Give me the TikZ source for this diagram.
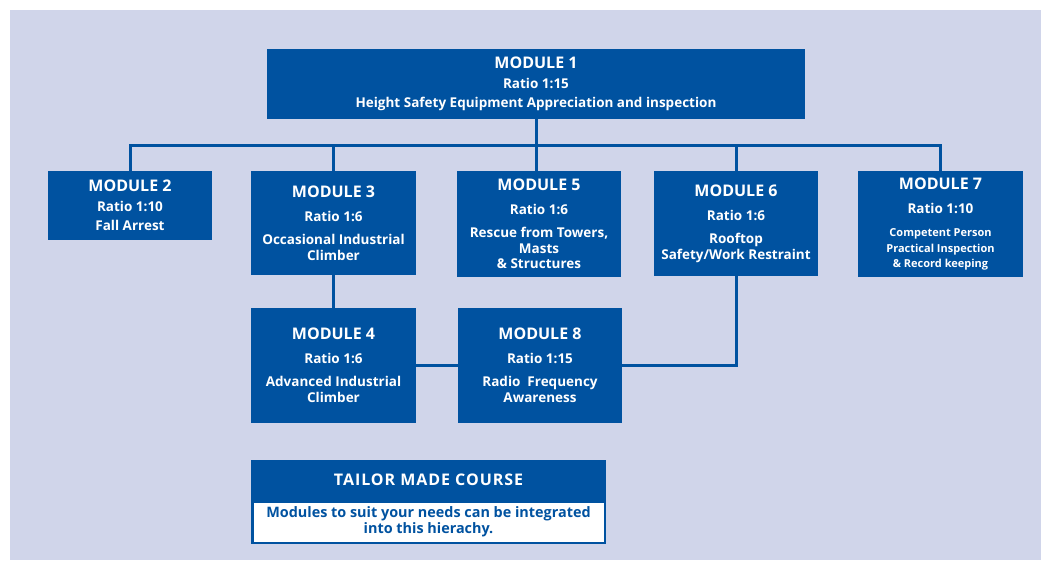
\documentclass[tikz,border=0pt]{standalone}
\usepackage{fontspec}
\setmainfont{Open Sans}
\definecolor{modblue}{RGB}{0,82,160}
\definecolor{backlav}{RGB}{208,213,234}
\newcommand{\modhead}[1]{{\fontsize{16}{16}\selectfont #1}}
\newcommand{\modratio}[1]{{\fontsize{13.5}{16}\selectfont #1}}
\newcommand{\moddesc}[1]{{\fontsize{13.5}{16}\selectfont #1}}
\newcommand{\modsmall}[1]{{\fontsize{11}{16}\selectfont #1}}
\newcommand{\modnote}[1]{{\fontsize{14.4}{16}\selectfont #1}}
\tikzset{
    modbox/.style={fill=modblue, text=white, font=\bfseries\fontsize{13.5}{16}\selectfont,
        align=center, inner sep=0pt, minimum width=164pt},
    link/.style={draw=modblue, line width=3pt},
}
\begin{document}
\begin{tikzpicture}[x=1pt, y=-1pt]
    \useasboundingbox (0, 0) rectangle (1041, 560);
    \fill[white] (0, 0) rectangle (1041, 560);
    \fill[backlav] (10, 10) rectangle (1041, 560);

    % top module
    \node[modbox, minimum width=538pt, minimum height=70pt] (m1) at (536, 84)
        {\modhead{MODULE 1}\\[4pt]\modratio{Ratio 1:15}\\[3pt]\moddesc{Height Safety Equipment Appreciation and inspection}};

    % second row
    \node[modbox, minimum height=69pt] (m2) at (130, 205.5)
        {\modhead{MODULE 2}\\[4pt]\modratio{Ratio 1:10}\\[3pt]\moddesc{Fall Arrest}};
    \node[modbox, minimum width=165pt, minimum height=104pt] (m3) at (333.5, 223)
        {\modhead{MODULE 3}\\[8pt]\modratio{Ratio 1:6}\\[7pt]\moddesc{Occasional Industrial}\\\moddesc{Climber}};
    \node[modbox, minimum height=106pt] (m5) at (539, 224)
        {\modhead{MODULE 5}\\[8pt]\modratio{Ratio 1:6}\\[7pt]\moddesc{Rescue from Towers,}\\\moddesc{Masts}\\[-1pt]\moddesc{\& Structures}};
    \node[modbox, minimum height=105pt] (m6) at (736, 223.5)
        {\modhead{MODULE 6}\\[8pt]\modratio{Ratio 1:6}\\[7pt]\moddesc{Rooftop}\\\moddesc{Safety/Work Restraint}};
    \node[modbox, minimum width=165pt, minimum height=106pt] (m7) at (940.5, 224)
        {\modhead{MODULE 7}\\[8pt]\modratio{Ratio 1:10}\\[7pt]\modsmall{Competent Person}\\\modsmall{Practical Inspection}\\[-1pt]\modsmall{\& Record keeping}};

    % third row
    \node[modbox, minimum width=165pt, minimum height=115pt] (m4) at (333.5, 365.5)
        {\modhead{MODULE 4}\\[8pt]\modratio{Ratio 1:6}\\[7pt]\moddesc{Advanced Industrial}\\\moddesc{Climber}};
    \node[modbox, minimum height=115pt] (m8) at (540, 365.5)
        {\modhead{MODULE 8}\\[8pt]\modratio{Ratio 1:15}\\[7pt]\moddesc{Radio\ \ Frequency}\\\moddesc{Awareness}};

    % tailor made course
    \node[modbox, minimum width=355pt, minimum height=40pt] (tailor) at (428.5, 480)
        {\modhead{\addfontfeatures{LetterSpace=6}TAILOR MADE COURSE}};
    \node[modbox, fill=white, draw=modblue, line width=2.5pt, text=modblue,
          minimum width=352.5pt, minimum height=41.5pt] (tailornote) at (428.5, 522)
        {\modnote{Modules to suit your needs can be integrated}\\\modnote{into this hierachy.}};

    % connectors
    \coordinate (bus) at (0, 145.5);
    \draw[link] (m1.south) -- (m1.south |- m5.north);
    \draw[link] (m2.north) -- (m2.north |- bus) -- (m7.north |- bus) -- (m7.north);
    \draw[link] (m3.north) -- (m3.north |- bus);
    \draw[link] (m6.north) -- (m6.north |- bus);
    \draw[link] (m3.south) -- (m4.north);
    \draw[link] (m4.east) -- (m8.west);
    \draw[link] (m8.east) -| (m6.south);
\end{tikzpicture}
\end{document}
